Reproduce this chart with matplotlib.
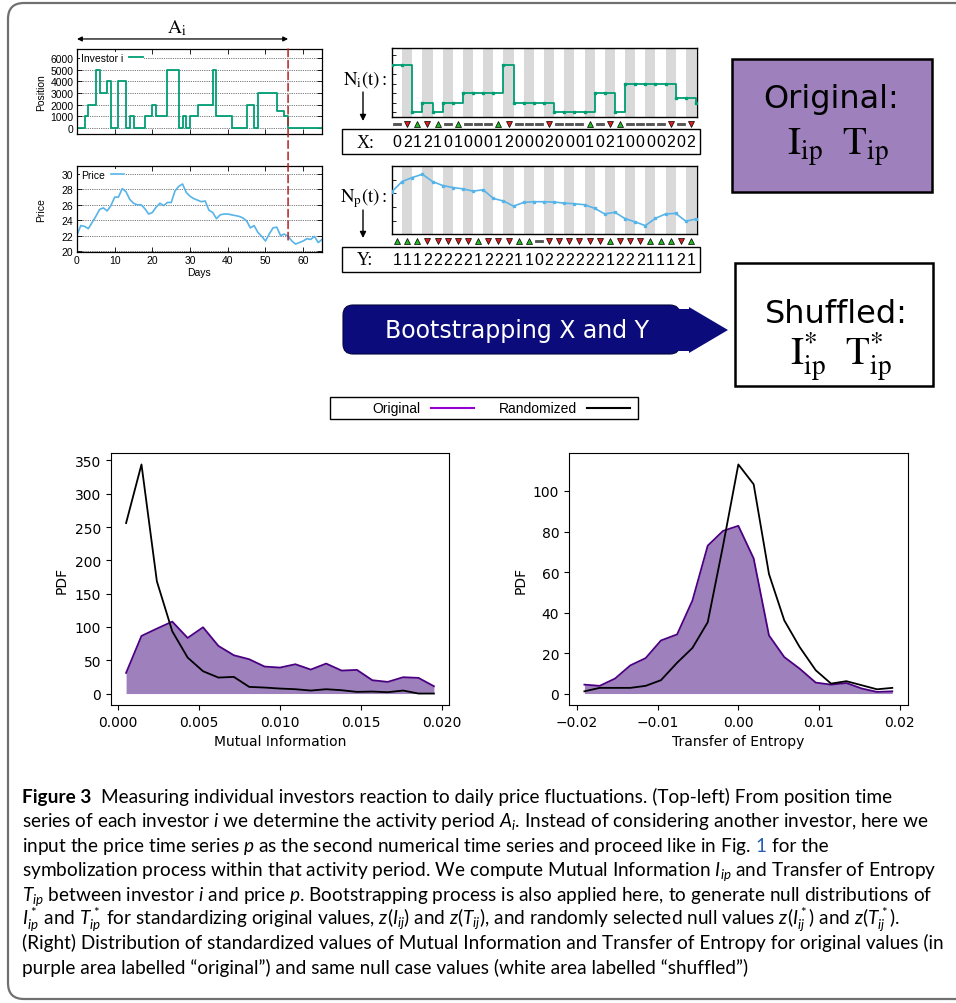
import numpy as np
import matplotlib
matplotlib.use("Agg")
import matplotlib.pyplot as plt
from matplotlib.patches import FancyBboxPatch, Rectangle, Polygon, ConnectionPatch
from matplotlib import font_manager as fm

# ---------------- data ----------------
# investor position (step series, value holds from each day on)
pos_days = [0, 2, 3, 5, 6, 8, 9, 11, 13, 14, 15, 18, 20, 21, 24, 27, 28, 29, 30, 32,
            36, 37, 41, 45, 47, 48, 53, 55, 56, 65]
pos_values = [0, 1000, 2000, 5000, 3000, 4000, 0, 4000, 0, 1000, 0, 1000, 2000, 1000,
              5000, 0, 1000, 0, 1000, 2000, 5000, 1000, 0, 2000, 0, 3000, 1500, 1000, 0, 0]
activity_end = 56

price_days = list(range(66))
price_values = [22.1, 23.3, 23.2, 22.9, 23.7, 24.5, 25.4, 25.6, 25.2, 25.9,
                27.0, 27.0, 28.1, 27.7, 26.7, 26.2, 26.0, 26.0, 25.5, 24.8,
                25.0, 25.7, 26.2, 25.9, 26.3, 26.3, 27.8, 28.4, 28.7, 27.6,
                27.1, 26.8, 26.6, 26.4, 26.5, 25.3, 25.0, 24.2, 24.7, 24.8,
                24.8, 24.7, 24.6, 24.5, 24.3, 23.9, 23.0, 23.3, 22.4, 21.9,
                21.3, 22.2, 23.0, 23.1, 22.0, 22.2, 21.9, 21.3, 20.9, 21.1,
                21.3, 21.6, 21.5, 21.9, 21.1, 21.5]

# symbolization example series
ni_values = [5, 5, 0, 1, 0, 1, 1, 2, 2, 2, 2, 5, 1, 1, 1, 1, 0, 0, 0, 0, 2, 2, 0,
             3, 3, 3, 3, 3, 1.5, 1.5, 1]
np_values = [3.14, 3.87, 4.16, 4.40, 3.87, 3.58, 3.43, 3.34, 3.17, 3.27, 2.64, 2.45,
             2.08, 2.35, 2.40, 2.40, 2.37, 2.30, 2.25, 2.18, 1.92, 1.51, 1.63, 1.17,
             0.93, 0.66, 1.19, 1.51, 1.55, 0.98, 1.14]

# distributions
mi_x = [0.0005, 0.00145, 0.0024, 0.00335, 0.0043, 0.00525, 0.0062, 0.00715, 0.0081,
        0.00905, 0.0100, 0.01095, 0.0119, 0.01285, 0.0138, 0.01475, 0.0157, 0.01665,
        0.0176, 0.01855, 0.0195]
mi_original = [31, 86.5, 97.5, 108, 83.5, 99.5, 71.5, 57.5, 51.5, 40.5, 39, 44, 36, 45,
               34.5, 35.5, 20, 17.5, 24.5, 23.5, 11]
mi_randomized = [256, 344, 168.5, 93.5, 54, 33.5, 24, 25, 10, 9, 7.5, 6.5, 4.5, 6.5, 5,
                 2.5, 3, 2, 4.5, 0, 0]

te_x = [-0.0191, -0.0172, -0.0153, -0.0134, -0.0115, -0.0096, -0.0076, -0.0057,
        -0.0038, -0.0019, 0.0, 0.0019, 0.0038, 0.0057, 0.0076, 0.0096, 0.0115, 0.0134,
        0.0153, 0.0172, 0.0191]
te_original = [4.4, 3.8, 7.4, 13.9, 17.5, 26.2, 29.2, 45.9, 73, 80.3, 82.8, 66.7, 28.7,
               18, 12.3, 5.4, 4.4, 5.2, 2.5, 0.8, 1.1]
te_randomized = [1.1, 2.8, 2.8, 2.8, 3.8, 6.6, 15.2, 22.5, 35.2, 73, 113.1, 103.3, 59,
                 36.1, 23, 11.5, 4.9, 6.1, 4.1, 2.1, 2.8]

legend_labels = ["Original", "Randomized"]

# ---------------- style ----------------
W, H = 956, 1004
GREEN = "#009e73"
BLUE = "#56b4e9"
FILL = "#9e80bd"
EDGE = "#4b0082"
VIOLET = "#9400d3"
NAVY = "#0b0b7c"
GP = "Liberation Sans"
GPS = 7.5

names = {f.name for f in fm.fontManager.ttflist}
CAP = "Lato" if "Lato" in names else "DejaVu Sans"
plt.rcParams["mathtext.fontset"] = "custom"
plt.rcParams["mathtext.rm"] = CAP
plt.rcParams["mathtext.it"] = CAP + ":italic"
plt.rcParams["mathtext.bf"] = CAP + ":bold"


def P(l, t, r, b):
    return [l / W, 1 - b / H, (r - l) / W, (b - t) / H]


fig = plt.figure(figsize=(W / 100, H / 100), dpi=100)

# overlay in pixel coordinates for decorations
ov = fig.add_axes([0, 0, 1, 1])
ov.set_xlim(0, W)
ov.set_ylim(H, 0)
ov.axis("off")
ov.patch.set_visible(False)

ov.add_patch(FancyBboxPatch((8, 4), 990, 996, boxstyle="round,pad=0,rounding_size=16",
                            fc="none", ec="#707070", lw=1.6))

# ---------------- top-left gnuplot-like panels ----------------
def gp_style(ax):
    ax.tick_params(direction="in", length=3.5, width=0.6, top=True, right=True, pad=2.5)
    for s in ax.spines.values():
        s.set_linewidth(0.9)
    ax.grid(axis="y", color="black", linestyle=(0, (1, 1.6)), lw=0.5)
    ax.set_axisbelow(True)


def gp_legend(ax):
    ax.legend(loc="upper left", frameon=True, fancybox=False, framealpha=1,
              edgecolor="none", markerfirst=False, handlelength=1.3, handletextpad=0.6,
              borderpad=0.1, borderaxespad=0.25, prop={"family": GP, "size": GPS})


ax1 = fig.add_axes(P(77, 50, 322, 135))
ax1.step(pos_days, pos_values, where="post", color=GREEN, lw=1.3, label="Investor i")
ax1.set_xlim(0, 65)
ax1.set_ylim(-500, 6750)
ax1.set_xticks(range(0, 61, 10), labels=[""] * 7)
yt = list(range(0, 6001, 1000))
ax1.set_yticks(yt, labels=[str(v) for v in yt], fontsize=GPS, fontfamily=GP)
gp_style(ax1)
ax1.set_ylabel("Position", fontsize=GPS, fontfamily=GP, labelpad=3)
gp_legend(ax1)

ax2 = fig.add_axes(P(77, 167, 322, 253))
ax2.plot(price_days, price_values, color=BLUE, lw=1.2, label="Price")
ax2.set_xlim(0, 65)
ax2.set_ylim(19.87, 31.04)
xt = list(range(0, 61, 10))
ax2.set_xticks(xt, labels=[str(v) for v in xt], fontsize=GPS, fontfamily=GP)
yt2 = list(range(20, 31, 2))
ax2.set_yticks(yt2, labels=[str(v) for v in yt2], fontsize=GPS, fontfamily=GP)
gp_style(ax2)
ax2.set_xlabel("Days", fontsize=GPS, fontfamily=GP, labelpad=1)
ax2.set_ylabel("Price", fontsize=GPS, fontfamily=GP, labelpad=11)
gp_legend(ax2)

# activity period marker
con = ConnectionPatch(xyA=(activity_end, 1), coordsA=ax1.get_xaxis_transform(),
                      xyB=(activity_end, 21.2), coordsB=ax2.transData,
                      color="#b22222", lw=1.1, linestyle=(0, (5, 2.5)))
fig.add_artist(con)
ax1.annotate("", xy=(activity_end, 1.118), xytext=(0, 1.118),
             xycoords=("data", "axes fraction"),
             arrowprops=dict(arrowstyle="<|-|>", color="black", lw=0.9,
                             mutation_scale=7, shrinkA=0, shrinkB=0),
             annotation_clip=False)
ax1.text(activity_end / 2 - 1.5, 1.2, r"$\mathrm{A}_{\mathrm{i}}$",
         transform=ax1.get_xaxis_transform(), math_fontfamily="stix", fontsize=14,
         ha="center", va="baseline")

# ---------------- symbolization panels ----------------
def symbol_panel(ax, values, color, yticks, ylim, step, yrow, ybox):
    n = len(values) - 1
    for k in range(n):
        if k % 2 == 1:
            ax.axvspan(k, k + 1, color="#d9d9d9", lw=0, zorder=0)
    t = list(range(len(values)))
    if step:
        ax.step(t, values, where="post", color=color, lw=1.3, zorder=3)
    else:
        ax.plot(t, values, color=color, lw=1.2, zorder=3)
    ax.plot(t, values, "s", ms=2.0, color=color, zorder=4)
    ax.set_xlim(0, n + 0.1)
    ax.set_ylim(*ylim)
    ax.set_xticks([])
    ax.set_yticks(yticks, labels=[""] * len(yticks))
    ax.tick_params(axis="y", direction="in", length=3, width=0.6)
    for s in ax.spines.values():
        s.set_linewidth(1.0)
    tr = ax.get_xaxis_transform()
    bar = [(-1, -0.38), (1, -0.38), (1, 0.38), (-1, 0.38), (-1, -0.38)]
    for k, (a, b) in enumerate(zip(values[:-1], values[1:])):
        code = 0 if b == a else (1 if b > a else 2)
        x = k + 0.5
        if code == 1:
            ax.plot([x], [yrow], marker="^", ms=4.8, mfc="#22b822", mec="black", mew=0.5,
                    ls="none", transform=tr, clip_on=False)
        elif code == 2:
            ax.plot([x], [yrow], marker="v", ms=4.8, mfc="#d81e1e", mec="black", mew=0.5,
                    ls="none", transform=tr, clip_on=False)
        else:
            ax.plot([x], [yrow], marker=bar, ms=5.5, mfc="#555555", mec="#222222", mew=0.4,
                    ls="none", transform=tr, clip_on=False)
        ax.text(x, ybox, str(code), transform=tr, ha="center", va="center",
                fontsize=11.5, fontfamily=GP)


ax3 = fig.add_axes(P(392, 49, 697, 118))
symbol_panel(ax3, ni_values, GREEN, list(range(0, 7)), (-0.53, 6.78), True, -0.10, -0.36)
ax4 = fig.add_axes(P(392, 167, 697, 235))
symbol_panel(ax4, np_values, BLUE, [1, 2, 3, 4], (0.05, 5.0), False, -0.10, -0.38)

ov.add_patch(Rectangle((342, 130), 358, 25, fc="none", ec="black", lw=1.0))
ov.add_patch(Rectangle((342, 248), 358, 25, fc="none", ec="black", lw=1.0))
ov.text(357, 143, "X:", fontfamily="Liberation Serif", fontsize=13, va="center")
ov.text(357, 261, "Y:", fontfamily="Liberation Serif", fontsize=13, va="center")
ov.text(387, 80, r"$\mathrm{N}_{\mathrm{i}}\mathrm{(t):}$", math_fontfamily="stix",
        fontsize=13.5, ha="right", va="center")
ov.text(387, 198, r"$\mathrm{N}_{\mathrm{p}}\mathrm{(t):}$", math_fontfamily="stix",
        fontsize=13.5, ha="right", va="center")
for y0, y1 in [(93, 122), (211, 239)]:
    ov.annotate("", xy=(363, y1), xytext=(363, y0),
                arrowprops=dict(arrowstyle="-|>", color="black", lw=1.0,
                                mutation_scale=9, shrinkA=0, shrinkB=0))

# ---------------- boxes and bootstrap arrow ----------------
ov.add_patch(Rectangle((732, 60), 200, 133, fc=FILL, ec="black", lw=1.8))
ov.text(831, 108, "Original:", fontsize=23, ha="center", va="baseline")
ov.text(838, 155, r"$\mathrm{I}_{\mathrm{ip}}\ \ \mathrm{T}_{\mathrm{ip}}$",
        math_fontfamily="stix", fontsize=28, ha="center", va="baseline")

ov.add_patch(Rectangle((735, 264), 198, 123, fc="white", ec="black", lw=1.8))
ov.text(836, 323, "Shuffled:", fontsize=23, ha="center", va="baseline")
ov.text(841, 366, r"$\mathrm{I}_{\mathrm{ip}}^{*}\ \ \mathrm{T}_{\mathrm{ip}}^{*}$",
        math_fontfamily="stix", fontsize=28, ha="center", va="baseline")

ov.add_patch(FancyBboxPatch((343, 306), 337, 49, boxstyle="round,pad=0,rounding_size=10",
                            fc=NAVY, ec="#05053f", lw=0.8))
ov.add_patch(Rectangle((676, 310), 14, 42, fc=NAVY, ec="none"))
ov.add_patch(Polygon([(689, 308), (689, 354), (728, 331)], closed=True, fc=NAVY, ec="none"))
ov.text(517, 331, "Bootstrapping X and Y", color="white", fontsize=17, ha="center",
        va="center")

# legend box (gnuplot-like key)
ov.add_patch(Rectangle((330, 398), 308, 22, fc="white", ec="black", lw=1.0))
ov.text(421, 409.5, legend_labels[0], ha="right", va="center", fontfamily=GP, fontsize=10)
ov.plot([431, 474], [409, 409], color=VIOLET, lw=1.5)
ov.text(577, 409.5, legend_labels[1], ha="right", va="center", fontfamily=GP, fontsize=10)
ov.plot([587, 630], [409, 409], color="black", lw=1.5)

# ---------------- distribution panels ----------------
ax5 = fig.add_axes(P(110.7, 454, 449.3, 706))
ax5.fill_between(mi_x, 0, mi_original, color=FILL, lw=0)
ax5.plot(mi_x, mi_original, color=EDGE, lw=1.3)
ax5.plot(mi_x, mi_randomized, color="black", lw=1.3)
ax5.set_xticks([0, 0.005, 0.01, 0.015, 0.02])
ax5.set_yticks(range(0, 351, 50))
ax5.set_xlabel("Mutual Information")
ax5.set_ylabel("PDF")

ax6 = fig.add_axes(P(569, 454, 907.7, 706))
ax6.fill_between(te_x, 0, te_original, color=FILL, lw=0)
ax6.plot(te_x, te_original, color=EDGE, lw=1.3)
ax6.plot(te_x, te_randomized, color="black", lw=1.3)
ax6.set_xticks([-0.02, -0.01, 0, 0.01, 0.02])
ax6.set_yticks(range(0, 101, 20))
ax6.set_xlabel("Transfer of Entropy")
ax6.set_ylabel("PDF")

# ---------------- caption ----------------
renderer = fig.canvas.get_renderer()
lines = [
    [("Figure 3", "black", "bold", 2),
     ("Measuring individual investors reaction to daily price fluctuations. (Top-left) From position time", "black", "normal", 0)],
    [("series of each investor $i$ we determine the activity period $A_i$. Instead of considering another investor, here we", "black", "normal", 0)],
    [("input the price time series $p$ as the second numerical time series and proceed like in Fig.", "black", "normal", 1),
     ("1", "#2a5db0", "normal", 1),
     ("for the", "black", "normal", 0)],
    [("symbolization process within that activity period. We compute Mutual Information $I_{ip}$ and Transfer of Entropy", "black", "normal", 0)],
    [("$T_{ip}$ between investor $i$ and price $p$. Bootstrapping process is also applied here, to generate null distributions of", "black", "normal", 0)],
    [("$I^*_{ip}$ and $T^*_{ip}$ for standardizing original values, $z(I_{ij})$ and $z(T_{ij})$, and randomly selected null values $z(I^*_{ij})$ and $z(T^*_{ij})$.", "black", "normal", 0)],
    [("(Right) Distribution of standardized values of Mutual Information and Transfer of Entropy for original values (in", "black", "normal", 0)],
    [("purple area labelled \u201coriginal\u201d) and same null case values (white area labelled \u201cshuffled\u201d)", "black", "normal", 0)],
]


def text_width(s, size, weight="normal"):
    t = ov.text(0, 0, s, fontsize=size, fontfamily=CAP, fontweight=weight)
    w = t.get_window_extent(renderer).width
    t.remove()
    return w


base = 10.0
cs = base * 914 / text_width(lines[3][0][0], base)
space_w = text_width("x x", cs) - text_width("xx", cs)

for i, parts in enumerate(lines):
    y = 803 + 24.4 * i
    x = 22.0
    for s, col, weight, nsp in parts:
        ov.text(x, y, s, fontsize=cs, fontfamily=CAP, color=col, fontweight=weight,
                va="baseline", ha="left")
        x = x + text_width(s, cs, weight) + nsp * space_w

fig.savefig("out.png", dpi=100)
